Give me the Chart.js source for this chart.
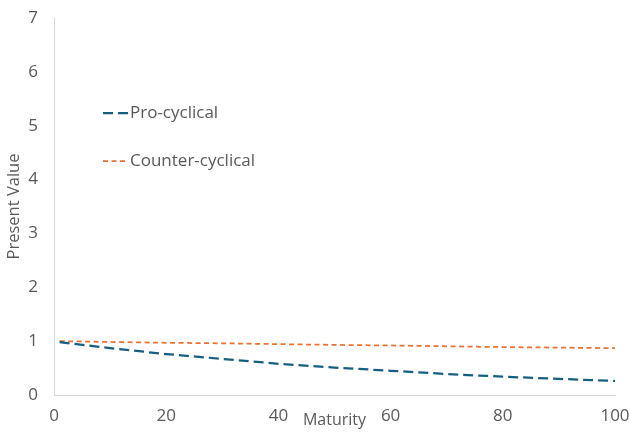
<!DOCTYPE html>
<html>
<head>
<meta charset="utf-8">
<script src="https://cdn.jsdelivr.net/npm/chart.js@4/dist/chart.umd.min.js"></script>
<style>
  html, body { margin: 0; padding: 0; background: #fff; }
  #wrap { width: 630px; height: 432px; position: relative; }
</style>
</head>
<body>
<div id="wrap"><canvas id="pv_chart"></canvas></div>
<script>
const maturity = [1, 10, 20, 30, 40, 50, 60, 70, 80, 90, 100]
const proCyclical = [0.98, 0.87, 0.76, 0.67, 0.58, 0.51, 0.45, 0.39, 0.34, 0.30, 0.26]
const counterCyclical = [1.00, 0.985, 0.97, 0.96, 0.945, 0.93, 0.92, 0.905, 0.89, 0.88, 0.87]
const xTicks = [0, 20, 40, 60, 80, 100]
const yTicks = [0, 1, 2, 3, 4, 5, 6, 7]

const FONT = "'Open Sans', sans-serif"
const GREY = '#595959'

function toPoints(values) {
    return maturity.map((m, i) => ({ x: m, y: values[i] }))
}

// legend drawn inside the plot area, stacked like the original
const innerLegend = {
    id: 'innerLegend',
    afterDraw(chart) {
        const ctx = chart.ctx
        const rows = [113, 161]
        ctx.save()
        chart.data.datasets.forEach((ds, i) => {
            const y = rows[i]
            ctx.beginPath()
            ctx.strokeStyle = ds.borderColor
            ctx.lineWidth = ds.borderWidth
            ctx.setLineDash(ds.borderDash)
            ctx.moveTo(103, y)
            ctx.lineTo(128, y)
            ctx.stroke()
            ctx.setLineDash([])
            ctx.fillStyle = GREY
            ctx.font = '17px ' + FONT
            ctx.textBaseline = 'middle'
            ctx.fillText(ds.label, 130, y)
        })
        ctx.restore()
    }
}

const pv_chart = document.querySelector('#pv_chart')
new Chart(pv_chart, {
    type: 'line',
    data: {
        datasets: [{
            label: 'Pro-cyclical',
            data: toPoints(proCyclical),
            borderColor: '#156082',
            borderWidth: 2.25,
            borderDash: [10, 5],
            pointRadius: 0,
            tension: 0,
            fill: false
        }, {
            label: 'Counter-cyclical',
            data: toPoints(counterCyclical),
            borderColor: '#E97132',
            borderWidth: 1.75,
            borderDash: [5, 3.5],
            pointRadius: 0,
            tension: 0,
            fill: false
        }]
    },
    options: {
        responsive: true,
        maintainAspectRatio: false,
        animation: false,
        layout: { padding: { top: 18, right: 15, bottom: 0, left: 0 } },
        plugins: {
            legend: { display: false },
            tooltip: { enabled: false }
        },
        scales: {
            x: {
                type: 'linear',
                min: 0,
                max: 100,
                afterBuildTicks: (axis) => { axis.ticks = xTicks.map(v => ({ value: v })) },
                afterFit: (axis) => {
                    axis.height = 37
                    axis.paddingLeft = 0
                    axis.paddingRight = 0
                },
                grid: { display: false, drawTicks: false },
                border: { display: true, color: '#d9d9d9', width: 1 },
                ticks: { color: GREY, font: { family: FONT, size: 17 }, padding: 11, maxRotation: 0 },
                title: {
                    display: true,
                    text: 'Maturity',
                    color: GREY,
                    font: { family: FONT, size: 16 },
                    padding: { top: 0, bottom: 2 }
                }
            },
            y: {
                min: 0,
                max: 7,
                afterBuildTicks: (axis) => { axis.ticks = yTicks.map(v => ({ value: v })) },
                afterFit: (axis) => {
                    axis.width = 54
                    axis.paddingTop = 0
                    axis.paddingBottom = 0
                },
                grid: { display: false, drawTicks: false },
                border: { display: true, color: '#d9d9d9', width: 1 },
                ticks: { color: GREY, font: { family: FONT, size: 17 }, padding: 16 },
                title: {
                    display: true,
                    text: 'Present Value',
                    color: GREY,
                    font: { family: FONT, size: 16.5 },
                    padding: { top: 4, bottom: 3 }
                }
            }
        }
    },
    plugins: [innerLegend]
})
</script>
</body>
</html>
